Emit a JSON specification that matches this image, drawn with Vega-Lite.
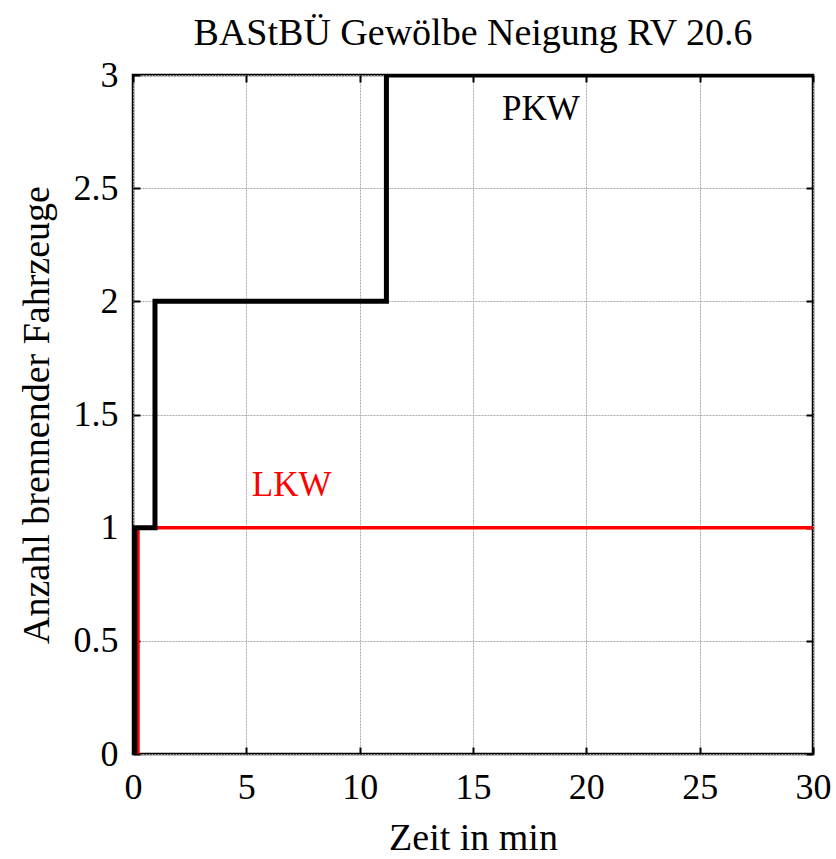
{
  "$schema": "https://vega.github.io/schema/vega-lite/v6.json",
  "autosize": "none",
  "padding": {"left": 133, "top": 75, "right": 23, "bottom": 105},
  "width": 680,
  "height": 679,
  "background": "white",
  "config": {
    "font": "Liberation Serif",
    "view": {"stroke": "black", "strokeWidth": 2.5},
    "axis": {
      "domain": false,
      "grid": true,
      "gridColor": "#aaaaaa",
      "gridDash": [2, 1],
      "gridWidth": 1,
      "tickColor": "black",
      "tickWidth": 2,
      "tickSize": -7,
      "labelFlush": false,
      "labelFont": "Liberation Serif",
      "labelFontSize": 36,
      "labelColor": "black",
      "titleFont": "Liberation Serif",
      "titleFontSize": 38,
      "titleFontWeight": "normal",
      "titleColor": "black"
    }
  },
  "title": {
    "text": "BAStBÜ Gewölbe Neigung RV 20.6",
    "font": "Liberation Serif",
    "fontSize": 38,
    "fontWeight": "normal",
    "color": "black",
    "anchor": "middle",
    "offset": 4
  },
  "datasets": {
    "lkw": [
      {"t": 0.22, "n": 0},
      {"t": 0.22, "n": 1},
      {"t": 30, "n": 1}
    ],
    "pkw": [
      {"t": 0.08, "n": 0},
      {"t": 0.08, "n": 1},
      {"t": 0.97, "n": 2},
      {"t": 11.18, "n": 3},
      {"t": 30, "n": 3}
    ],
    "labels": [
      {"t": 18.0, "n": 2.85, "label": "PKW", "c": "black"},
      {"t": 7.0, "n": 1.19, "label": "LKW", "c": "red"}
    ]
  },
  "resolve": {"axis": {"x": "independent", "y": "independent"}},
  "layer": [
    {
      "data": {"name": "lkw"},
      "mark": {"type": "line", "interpolate": "step-after", "color": "#ff0000", "strokeWidth": 3.5, "clip": true},
      "encoding": {
        "x": {"field": "t", "type": "quantitative", "scale": {"domain": [0, 30], "nice": false},
          "axis": {"title": "Zeit in min", "values": [0, 5, 10, 15, 20, 25, 30], "format": "~g", "labelPadding": 23, "titlePadding": 14}},
        "y": {"field": "n", "type": "quantitative", "scale": {"domain": [0, 3], "nice": false},
          "axis": {"title": "Anzahl brennender Fahrzeuge", "values": [0, 0.5, 1, 1.5, 2, 2.5, 3], "format": "~g", "labelPadding": 22, "titlePadding": 17}}
      }
    },
    {
      "data": {"name": "pkw"},
      "mark": {"type": "line", "interpolate": "step-after", "color": "black", "strokeWidth": 5, "clip": true},
      "encoding": {
        "x": {"field": "t", "type": "quantitative", "scale": {"domain": [0, 30], "nice": false},
          "axis": {"orient": "top", "title": null, "labels": false, "grid": false, "values": [0, 5, 10, 15, 20, 25, 30]}},
        "y": {"field": "n", "type": "quantitative", "scale": {"domain": [0, 3], "nice": false},
          "axis": {"orient": "right", "title": null, "labels": false, "grid": false, "values": [0, 0.5, 1, 1.5, 2, 2.5, 3]}}
      }
    },
    {
      "data": {"name": "labels"},
      "mark": {"type": "text", "fontSize": 35, "font": "Liberation Serif", "align": "center", "baseline": "middle"},
      "encoding": {
        "x": {"field": "t", "type": "quantitative", "axis": null},
        "y": {"field": "n", "type": "quantitative", "axis": null},
        "text": {"field": "label"},
        "color": {"field": "c", "type": "nominal", "scale": null}
      }
    }
  ]
}
